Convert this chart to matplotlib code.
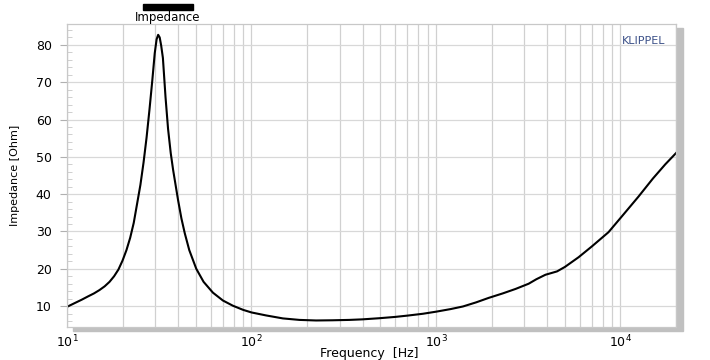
# impedance curve, klippel style
import numpy as np
import matplotlib.pyplot as plt
from matplotlib.patches import Rectangle
from matplotlib.ticker import LogLocator, MultipleLocator, FixedLocator, NullFormatter

# values
freq = [10, 11, 12, 13, 14, 15, 16, 17, 18, 19, 20, 21, 22, 23, 24, 25, 26, 27, 28,
        29, 29.9, 30.6, 31.2, 31.8, 32.4, 33.1, 34.2, 35.3, 36.5, 37.6, 40, 41.7,
        43.5, 46, 50.2, 55, 61.8, 70, 79.3, 90, 100, 120, 148, 182, 224, 274, 339,
        400, 492, 600, 700, 850, 1000, 1200, 1400, 1650, 1930, 2300, 2700, 3180,
        3500, 3920, 4250, 4530, 5000, 5930, 7000, 8610, 10000, 12500, 15000, 17500,
        20000]
imp = [9.8, 10.8, 11.7, 12.6, 13.4, 14.3, 15.3, 16.5, 18.0, 19.8, 22.2, 25.0, 28.3,
       32.3, 37.5, 42.5, 48.5, 55.2, 62.7, 70.5, 77.8, 81.5, 82.7, 82.0, 79.8, 76.5,
       66.0, 57.5, 51.0, 46.5, 38.4, 33.5, 29.5, 25.0, 20.0, 16.5, 13.6, 11.5, 10.1,
       9.0, 8.3, 7.5, 6.7, 6.3, 6.15, 6.2, 6.3, 6.45, 6.75, 7.1, 7.45, 7.95, 8.5,
       9.2, 9.9, 11.0, 12.2, 13.4, 14.6, 16.0, 17.2, 18.4, 18.9, 19.3, 20.5, 23.1,
       26.0, 29.8, 33.6, 39.3, 44.2, 48.0, 51.0]
xticks = [10, 100, 1000, 10000]
xticklabels = ['10$^1$', '10$^2$', '10$^3$', '10$^4$']
yticks = [10, 20, 30, 40, 50, 60, 70, 80]

W, H = 710, 360
fig = plt.figure(figsize=(W / 100, H / 100), dpi=100)

# drop shadow behind the plot box
fig.patches.append(Rectangle((73 / W, 1 - 331 / H), 610 / W, 303 / H,
                             transform=fig.transFigure, color='#c0c0c0', zorder=0))

ax = fig.add_axes([67 / W, 1 - 327 / H, 609 / W, 303 / H])
ax.set_facecolor('white')
ax.set_zorder(1)

ax.plot(freq, imp, color='black', lw=1.5)

ax.set_xscale('log')
ax.set_xlim(10, 20000)
ax.set_ylim(4.4, 85.6)

ax.xaxis.set_major_locator(FixedLocator(xticks))
ax.set_xticklabels(xticklabels)
ax.xaxis.set_minor_locator(LogLocator(base=10, subs=np.arange(2, 10)))
ax.xaxis.set_minor_formatter(NullFormatter())
ax.set_yticks(yticks)
ax.yaxis.set_minor_locator(MultipleLocator(2))

ax.grid(True, which='both', axis='x', color='#d0d0d0', lw=0.9)
ax.grid(True, which='major', axis='y', color='#d8d8d8', lw=0.9)
ax.tick_params(axis='x', which='both', length=0, pad=5, labelsize=9)
ax.tick_params(axis='y', which='major', direction='out', length=5, color='#b0b0b0',
               pad=6, labelsize=9)
ax.tick_params(axis='y', which='minor', direction='in', length=3.5, color='#c8c8c8')
for s in ax.spines.values():
    s.set_color('#c8c8c8')
    s.set_linewidth(0.9)

fig.text(369 / W, 1 - 353 / H, 'Frequency  [Hz]', ha='center', va='center', fontsize=9)
ax.set_ylabel('Impedance [Ohm]', fontsize=8, family='Liberation Sans Narrow')
ax.yaxis.set_label_coords((20 - 67) / 609, 0.5)

ax.text(0.982, 0.945, 'KLIPPEL', transform=ax.transAxes, ha='right', va='center',
        color='#3b5088', fontsize=8)

# legend at the top
fig.patches.append(Rectangle((143 / W, 1 - 10 / H), 50 / W, 6 / H,
                             transform=fig.transFigure, color='black'))
fig.text(168 / W, 1 - 18 / H, 'Impedance', ha='center', va='center', fontsize=8.5)

fig.savefig('out.png', dpi=100)
